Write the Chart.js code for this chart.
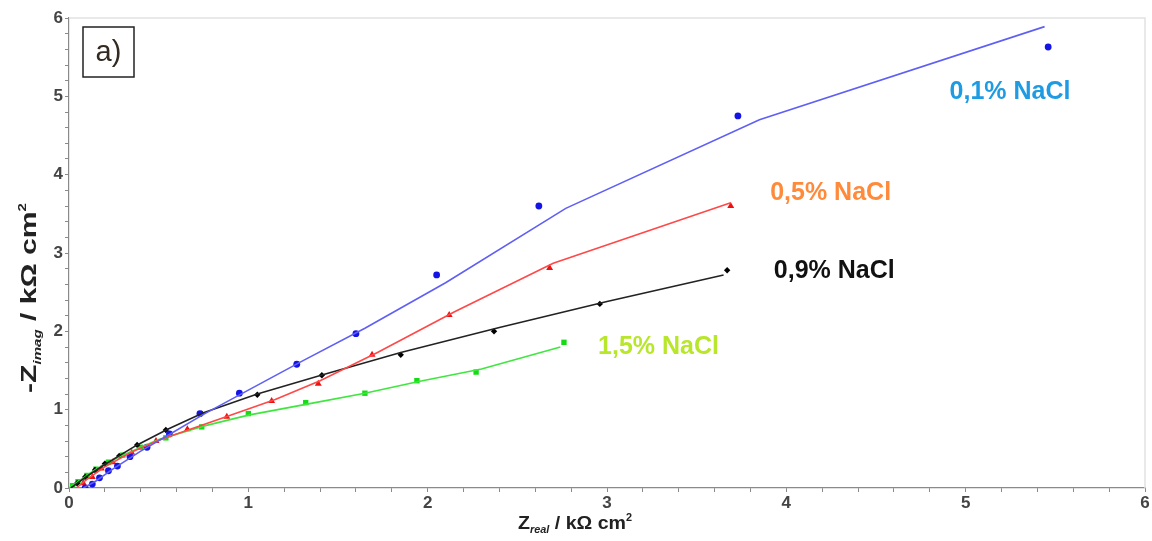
<!DOCTYPE html>
<html>
<head>
<meta charset="utf-8">
<script src="https://cdn.jsdelivr.net/npm/chart.js@4"></script>
<style>
  html, body { margin: 0; padding: 0; background: #fff; }
  #contenedor { width: 1152px; height: 541px; }
</style>
</head>
<body>
<div id="contenedor"><canvas id="graficoNyquist"></canvas></div>
<script>
// Diagrama de Nyquist a) - datos medidos y curvas de ajuste por concentración de NaCl

const ticksEjes = [0, 1, 2, 3, 4, 5, 6];
const series = ['0,1% NaCl', '0,5% NaCl', '0,9% NaCl', '1,5% NaCl'];

// 0,1% NaCl
const datosX01 = [0.09, 0.13, 0.17, 0.22, 0.27, 0.34, 0.435, 0.56, 0.73, 0.95, 1.27, 1.60, 2.05, 2.62, 3.73, 5.46];
const datosY01 = [0.00, 0.05, 0.13, 0.22, 0.28, 0.40, 0.52, 0.69, 0.95, 1.21, 1.58, 1.97, 2.72, 3.60, 4.75, 5.63];
const ajusteX01 = [0.08, 0.15, 0.25, 0.40, 0.55, 0.75, 1.00, 1.30, 1.65, 2.10, 2.77, 3.85, 5.44];
const ajusteY01 = [0.00, 0.09, 0.25, 0.47, 0.67, 0.94, 1.25, 1.62, 2.04, 2.62, 3.57, 4.70, 5.89];

// 0,5% NaCl
const datosX05 = [0.08, 0.13, 0.18, 0.245, 0.35, 0.485, 0.66, 0.88, 1.13, 1.39, 1.69, 2.12, 2.68, 3.69];
const datosY05 = [0.06, 0.14, 0.25, 0.33, 0.45, 0.60, 0.75, 0.91, 1.11, 1.33, 1.70, 2.21, 2.81, 3.60];
const ajusteX05 = [0.04, 0.10, 0.20, 0.35, 0.50, 0.70, 0.90, 1.15, 1.40, 1.72, 2.15, 2.70, 3.69];
const ajusteY05 = [0.00, 0.11, 0.27, 0.46, 0.61, 0.77, 0.93, 1.13, 1.37, 1.73, 2.25, 2.87, 3.64];

// 0,9% NaCl
const datosX09 = [0.045, 0.09, 0.145, 0.20, 0.28, 0.38, 0.54, 0.74, 1.05, 1.41, 1.85, 2.37, 2.96, 3.67];
const datosY09 = [0.06, 0.14, 0.23, 0.31, 0.41, 0.55, 0.74, 0.95, 1.19, 1.44, 1.70, 2.00, 2.35, 2.78];
const ajusteX09 = [0.01, 0.10, 0.20, 0.38, 0.55, 0.75, 1.05, 1.42, 1.85, 2.40, 3.00, 3.65];
const ajusteY09 = [0.00, 0.15, 0.30, 0.55, 0.75, 0.96, 1.20, 1.45, 1.73, 2.05, 2.38, 2.72];

// 1,5% NaCl
const datosX15 = [0.02, 0.05, 0.10, 0.15, 0.22, 0.30, 0.40, 0.54, 0.74, 1.00, 1.32, 1.65, 1.94, 2.27, 2.76];
const datosY15 = [0.03, 0.08, 0.16, 0.24, 0.33, 0.42, 0.52, 0.64, 0.78, 0.95, 1.09, 1.21, 1.37, 1.48, 1.86];
const ajusteX15 = [0.00, 0.05, 0.15, 0.30, 0.50, 0.75, 1.00, 1.35, 1.65, 1.95, 2.30, 2.74];
const ajusteY15 = [0.00, 0.08, 0.24, 0.42, 0.62, 0.79, 0.93, 1.08, 1.21, 1.36, 1.52, 1.80];

const fuente = '"Liberation Sans", Arial, sans-serif';

function pares(xs, ys) {
  return xs.map((x, i) => ({ x: x, y: ys[i] }));
}

function curva(xs, ys, color) {
  return { data: pares(xs, ys), showLine: true, borderColor: color, borderWidth: 1.6,
           pointRadius: 0, fill: false, tension: 0 };
}

function puntos(xs, ys, color, estilo, radio) {
  return { data: pares(xs, ys), showLine: false, pointStyle: estilo, pointRadius: radio,
           pointBackgroundColor: color, pointBorderColor: color, pointBorderWidth: 0 };
}

// texto con sub/superíndices, escalado a un largo dado
function textoCompuesto(ctx, partes, largo) {
  let total = 0;
  partes.forEach(p => { ctx.font = p.f; total += ctx.measureText(p.t).width; });
  const esc = largo / total;
  ctx.save();
  ctx.scale(esc, 1);
  let x = -total / 2;
  partes.forEach(p => {
    ctx.font = p.f;
    ctx.fillText(p.t, x, p.dy);
    x += ctx.measureText(p.t).width;
  });
  ctx.restore();
}

const decoracion = {
  id: 'decoracion',
  afterDraw(chart) {
    const ctx = chart.ctx;
    const a = chart.chartArea;
    const sx = chart.scales.x, sy = chart.scales.y;
    ctx.save();
    // marco superior y derecho
    ctx.strokeStyle = '#e2e2e2';
    ctx.lineWidth = 1.5;
    ctx.beginPath();
    ctx.moveTo(a.left, a.top); ctx.lineTo(a.right, a.top); ctx.lineTo(a.right, a.bottom);
    ctx.stroke();

    // recuadro "a)"
    ctx.strokeStyle = '#222';
    ctx.lineWidth = 1.5;
    ctx.strokeRect(a.left + 14, a.top + 9, 51, 50);
    ctx.fillStyle = '#332a22';
    ctx.font = '29px ' + fuente;
    ctx.textAlign = 'center';
    ctx.textBaseline = 'middle';
    ctx.fillText('a)', a.left + 39.5, a.top + 35);

    // etiquetas de las series
    const colores = ['#1e9be2', '#ff8a3a', '#111111', '#b8e62a'];
    const anclaX = [4.91, 3.91, 3.93, 2.95];
    const anclaY = [5.06, 3.77, 2.77, 1.80];
    ctx.font = 'bold 25px ' + fuente;
    ctx.textAlign = 'left';
    series.forEach((s, i) => {
      ctx.fillStyle = colores[i];
      ctx.fillText(s, sx.getPixelForValue(anclaX[i]), sy.getPixelForValue(anclaY[i]));
    });

    // títulos de los ejes
    ctx.fillStyle = '#222';
    ctx.textBaseline = 'alphabetic';
    ctx.textAlign = 'left';
    ctx.save();
    ctx.translate(575, 529);
    textoCompuesto(ctx, [
      { t: 'Z', f: 'bold 18px ' + fuente, dy: 0 },
      { t: 'real', f: 'bold italic 10px ' + fuente, dy: 4 },
      { t: ' / k\u03A9 cm', f: 'bold 18px ' + fuente, dy: 0 },
      { t: '2', f: 'bold 10px ' + fuente, dy: -8 }
    ], 114);
    ctx.restore();

    ctx.save();
    ctx.translate(36, 298);
    ctx.rotate(-Math.PI / 2);
    textoCompuesto(ctx, [
      { t: '-Z', f: 'bold 22px ' + fuente, dy: 0 },
      { t: 'imag', f: 'bold italic 11px ' + fuente, dy: 5 },
      { t: ' / k\u03A9 cm', f: 'bold 22px ' + fuente, dy: 0 },
      { t: '2', f: 'bold 11px ' + fuente, dy: -10 }
    ], 190);
    ctx.restore();
    ctx.restore();
  }
};

function etiquetaEntera(v) {
  const r = Math.round(v);
  return (Math.abs(v - r) < 1e-6 && ticksEjes.includes(r)) ? String(r) : '';
}

const ejeComun = {
  type: 'linear',
  min: 0,
  max: 6,
  grid: { display: true, drawOnChartArea: false, drawTicks: true, tickLength: 4, color: '#8a8a8a' },
  border: { display: true, color: '#8a8a8a', width: 1.2 },
  ticks: {
    stepSize: 0.2,
    autoSkip: false,
    maxRotation: 0,
    color: '#444',
    font: { family: fuente, size: 17, weight: 'bold' },
    callback: etiquetaEntera
  }
};

new Chart(document.getElementById('graficoNyquist'), {
  type: 'scatter',
  data: {
    datasets: [
      curva(ajusteX01, ajusteY01, '#5f5ff5'),
      curva(ajusteX05, ajusteY05, '#ff4848'),
      curva(ajusteX09, ajusteY09, '#222222'),
      curva(ajusteX15, ajusteY15, '#40e640'),
      puntos(datosX01, datosY01, '#1414e6', 'circle', 3.4),
      puntos(datosX05, datosY05, '#ee1111', 'triangle', 4),
      puntos(datosX09, datosY09, '#000000', 'rectRot', 3.2),
      puntos(datosX15, datosY15, '#14dc14', 'rect', 3.8)
    ]
  },
  options: {
    responsive: true,
    maintainAspectRatio: false,
    animation: false,
    layout: { padding: { top: 18, right: 7, left: 0, bottom: 0 } },
    plugins: { legend: { display: false }, tooltip: { enabled: false } },
    scales: {
      x: Object.assign({}, ejeComun, {
        ticks: Object.assign({}, ejeComun.ticks, { padding: 1 }),
        afterFit: s => { s.height = 53; }
      }),
      y: Object.assign({}, ejeComun, {
        ticks: Object.assign({}, ejeComun.ticks, { padding: 2 }),
        afterFit: s => { s.width = 69; }
      })
    }
  },
  plugins: [decoracion]
});
</script>
</body>
</html>
